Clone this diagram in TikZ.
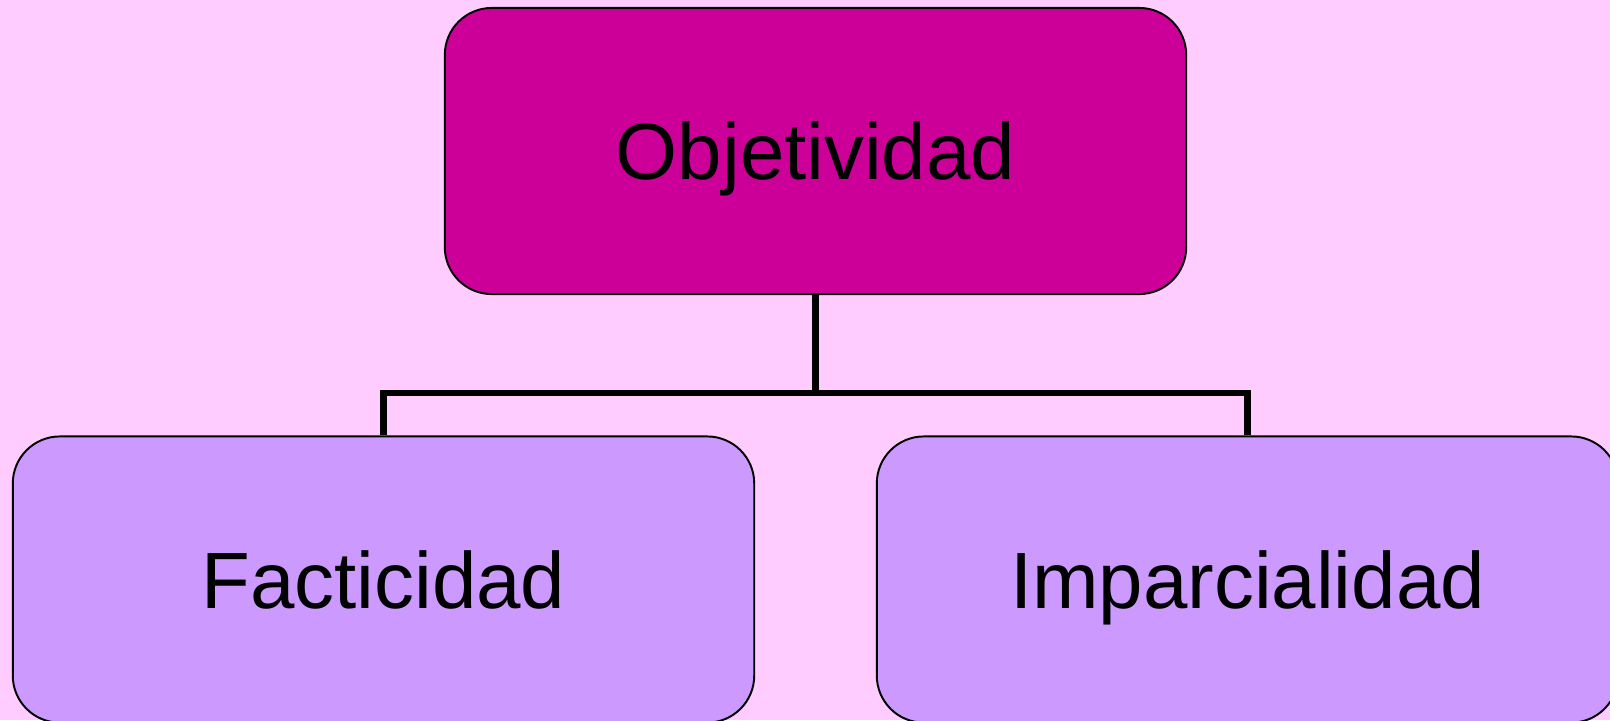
\documentclass[tikz,border=0pt]{standalone}
\usepackage{fontspec}
\setmainfont{Liberation Sans}
\usepackage{tikz}
\definecolor{bgpink}{RGB}{255,204,255}
\definecolor{topmagenta}{RGB}{204,0,153}
\definecolor{lowviolet}{RGB}{204,153,255}

\begin{document}
\begin{tikzpicture}[x=0.01cm, y=-0.01cm, box/.style={rectangle, rounded corners=0.47cm, draw=black, line width=0.55pt, minimum width=7.41cm, minimum height=2.86cm, text depth=0pt, font=\fontsize{22.7}{27}\selectfont}, topbox/.style={box, fill=topmagenta}, lowbox/.style={box, fill=lowviolet}, conn/.style={draw=black, line width=1.8pt}]

    \fill[bgpink] (0,0) rectangle (1610,720);
    \useasboundingbox (0,0) rectangle (1610,720);
    \clip (0,0) rectangle (1610,720);

    %Nodes
    \node[topbox](objetividad) at (815.5,151){Objetividad};
    \node[lowbox](facticidad) at (383.5,579.5){Facticidad};
    \node[lowbox](imparcialidad) at (1247.5,579.5){Imparcialidad};
    \coordinate (bus) at (815.5,393);

    %Lines
    \draw[conn] (objetividad.south) -- (bus);
    \draw[conn] (facticidad.north) |- (bus) -| (imparcialidad.north);

\end{tikzpicture}
\end{document}
